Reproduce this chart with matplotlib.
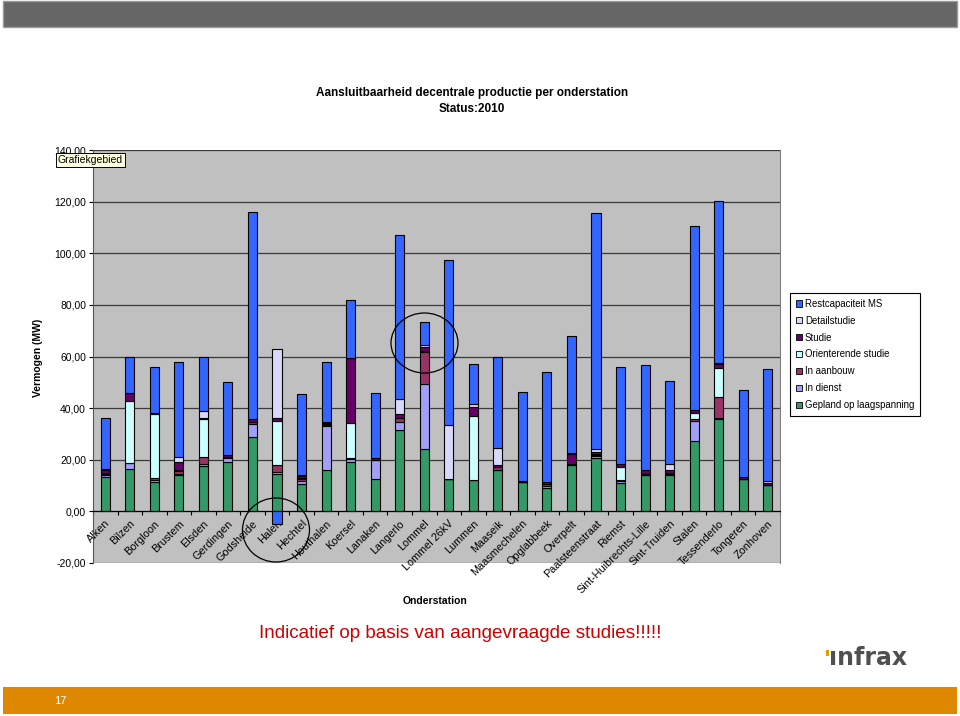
import numpy as np
import matplotlib
matplotlib.use('Agg')
import matplotlib.pyplot as plt
from matplotlib.patches import Patch, Rectangle, Ellipse

plt.rcParams['font.family'] = ['Liberation Sans', 'DejaVu Sans']

stations = ['Alken', 'Bilzen', 'Borgloon', 'Brustem', 'Elsden', 'Gerdingen',
            'Godsheide', 'Halen', 'Hechtel', 'Houthalen', 'Koersel', 'Lanaken',
            'Langerlo', 'Lommel', 'Lommel 26kV', 'Lummen', 'Maaseik',
            'Maasmechelen', 'Opglabbeek', 'Overpelt', 'Paalsteenstraat',
            'Riemst', 'Sint-Huibrechts-Lille', 'Sint-Truiden', 'Stalen',
            'Tessenderlo', 'Tongeren', 'Zonhoven']

# MW per onderstation, van onder naar boven gestapeld
gepland = [13.3, 16.5, 11.4, 14.0, 17.5, 19.1, 28.9, 14.3, 10.5, 15.9, 19.1, 12.6,
           31.4, 24.0, 12.4, 12.0, 16.0, 11.5, 9.2, 17.9, 20.8, 11.1, 13.9, 13.9,
           27.2, 35.9, 12.6, 10.1]
in_dienst = [0.7, 2.3, 0.7, 0.5, 0.8, 1.6, 4.8, 0.8, 1.4, 17.2, 1.3, 7.4,
             3.2, 25.2, 0.0, 0.3, 0.0, 0.0, 0.7, 0.0, 0.6, 0.8, 0.3, 0.5,
             7.7, 0.3, 0.0, 0.3]
in_aanbouw = [0.5, 0.0, 0.7, 1.3, 2.6, 0.4, 1.0, 2.8, 0.6, 0.3, 0.2, 0.0,
              1.6, 12.6, 0.0, 0.0, 1.0, 0.0, 0.8, 0.6, 0.6, 0.3, 0.4, 0.3,
              1.0, 8.3, 0.0, 0.0]
orienterend = [0.3, 23.9, 24.9, 0.3, 14.8, 0.0, 0.0, 17.2, 0.3, 0.3, 13.6, 0.0,
               0.0, 0.4, 0.0, 24.6, 0.3, 0.0, 0.0, 0.0, 0.3, 4.9, 0.0, 0.3,
               2.2, 11.0, 0.0, 0.0]
studie = [1.2, 3.2, 0.3, 3.2, 0.6, 0.8, 1.0, 1.2, 1.0, 0.6, 25.4, 0.8,
          1.5, 1.5, 0.3, 3.4, 0.8, 0.4, 0.8, 3.6, 0.8, 1.3, 1.6, 1.2,
          1.0, 1.5, 0.8, 0.6]
detailstudie = [0.3, 0.0, 0.0, 1.8, 2.4, 0.0, 0.0, 26.7, 0.3, 0.5, 0.0, 0.0,
                5.8, 0.9, 20.6, 1.2, 6.6, 0.0, 0.0, 0.6, 1.0, 0.0, 0.0, 2.2,
                0.3, 0.5, 0.0, 0.8]
restcapaciteit = [20.0, 14.0, 17.9, 36.8, 21.2, 28.2, 80.3, -4.7, 31.2, 23.1, 22.4, 24.9,
                  63.5, 8.7, 64.2, 15.7, 35.2, 34.3, 42.6, 45.2, 91.6, 37.6, 40.4, 32.1,
                  71.3, 62.9, 33.6, 43.2]

series = [
    ('Gepland op laagspanning', gepland, '#339966'),
    ('In dienst', in_dienst, '#A0A0F8'),
    ('In aanbouw', in_aanbouw, '#993366'),
    ('Orienterende studie', orienterend, '#CCFFFF'),
    ('Studie', studie, '#660066'),
    ('Detailstudie', detailstudie, '#D8D8FA'),
    ('Restcapaciteit MS', restcapaciteit, '#3366FF'),
]

W, H = 960, 716
fig = plt.figure(figsize=(W / 100, H / 100), dpi=100)
fig.patch.set_facecolor('white')


def fx(px):
    return px / W


def fy(py):
    return 1 - py / H


# bovenste grijze balk en onderste oranje balk
fig.add_artist(Rectangle((fx(3), fy(27)), fx(954), 26 / H, transform=fig.transFigure,
                         facecolor='#666666', edgecolor='#9a9a9a', lw=1))
fig.add_artist(Rectangle((fx(3), fy(714)), fx(954), 27 / H, transform=fig.transFigure,
                         facecolor='#DD8800', edgecolor='none'))
fig.text(fx(60), fy(701), '17', color='white', fontsize=8, ha='center', va='center')

ax = fig.add_axes([fx(93), fy(563), fx(780) - fx(93), (563 - 150) / H])
ax.set_facecolor('#C0C0C0')

x = np.arange(len(stations))
pos_bottom = np.zeros(len(stations))
neg_bottom = np.zeros(len(stations))
for label, vals, color in series:
    vals = np.array(vals)
    bottoms = np.where(vals >= 0, pos_bottom, neg_bottom)
    ax.bar(x, vals, width=0.37, bottom=bottoms, color=color, edgecolor='black',
           linewidth=0.8, label=label, zorder=3)
    pos_bottom = pos_bottom + np.where(vals >= 0, vals, 0)
    neg_bottom = neg_bottom + np.where(vals < 0, vals, 0)

ax.set_xlim(-0.5, len(stations) - 0.5)
ax.set_ylim(-20, 140)
yticks = np.arange(-20, 141, 20)
ax.set_yticks(yticks)
ax.set_yticklabels([f'{v:.2f}'.replace('.', ',') for v in yticks], fontsize=7.5)
ax.grid(axis='y', color='#3a3a3a', linewidth=0.9, zorder=1)
ax.tick_params(axis='y', length=3, width=0.8, pad=2)

ax.spines['bottom'].set_position(('data', 0))
ax.spines['bottom'].set_color('black')
ax.spines['bottom'].set_zorder(4)
ax.spines['top'].set_visible(False)
ax.spines['left'].set_color('#555555')
ax.spines['right'].set_color('#808080')
ax.set_xticks(x)
ax.set_xticklabels(stations, rotation=45, ha='right', rotation_mode='anchor', fontsize=7.8)
ax.set_xticks(np.arange(-0.5, len(stations), 1), minor=True)
ax.tick_params(axis='x', which='major', length=0, pad=5)
ax.tick_params(axis='x', which='minor', length=3, width=0.8)

handles = [Patch(facecolor=c, edgecolor='black', linewidth=0.6, label=l)
           for l, v, c in reversed(series)]
leg = fig.legend(handles=handles, loc='upper left',
                 bbox_to_anchor=(fx(790), fy(293)), fontsize=6.9,
                 frameon=True, fancybox=False, framealpha=1, edgecolor='black',
                 handlelength=0.65, handleheight=0.65, handletextpad=0.3,
                 labelspacing=0.72, borderpad=0.6, borderaxespad=0)
leg.get_frame().set_linewidth(0.8)

fig.text(fx(472), fy(93), 'Aansluitbaarheid decentrale productie per onderstation',
         fontsize=8.5, fontweight='bold', ha='center', va='center')
fig.text(fx(472), fy(109), 'Status:2010', fontsize=8.5, fontweight='bold',
         ha='center', va='center')
fig.text(fx(38), fy(358), 'Vermogen (MW)', fontsize=7.5, fontweight='bold',
         rotation=90, ha='center', va='center')
fig.text(fx(435), fy(601), 'Onderstation', fontsize=7.5, fontweight='bold',
         ha='center', va='center')

# tooltip van Excel, ligt deels over het label 140,00
fig.text(fx(58), fy(160), 'Grafiekgebied', fontsize=7.5, ha='left', va='center',
         zorder=20,
         bbox=dict(boxstyle='square,pad=0.2', facecolor='#FFFFE1', edgecolor='black', lw=0.7))

# cirkels
fig.add_artist(Ellipse((fx(424.5), fy(343)), 67 / W, 60 / H, transform=fig.transFigure,
                       fill=False, edgecolor='black', lw=0.9, zorder=10))
fig.add_artist(Ellipse((fx(276), fy(530)), 67 / W, 64 / H, transform=fig.transFigure,
                       fill=False, edgecolor='black', lw=0.9, zorder=10))

fig.text(fx(460), fy(634), 'Indicatief op basis van aangevraagde studies!!!!!',
         fontsize=13.6, color='#CC0000', ha='center', va='center')

# logo
fig.add_artist(Rectangle((fx(826), fy(656)), 3 / W, 6 / H, transform=fig.transFigure,
                         facecolor='#D9A000', edgecolor='none'))
fig.text(fx(868), fy(658), '\u0131nfrax', fontsize=17, fontweight='bold',
         color='#505050', ha='center', va='center', family='DejaVu Sans')

fig.savefig('out.png', dpi=100)
